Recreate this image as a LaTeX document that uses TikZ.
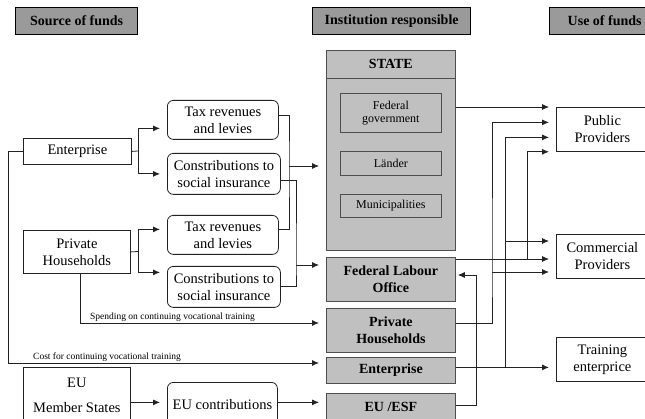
\documentclass[tikz,border=0pt]{standalone}
\usepackage{fontspec}
\setmainfont{Liberation Serif}
\usetikzlibrary{calc, arrows.meta}

\definecolor{headgray}{HTML}{9A9A9A}
\definecolor{boxgray}{HTML}{C0C0C0}
\definecolor{linegray}{HTML}{222222}

\tikzset{
	header/.style={draw=black, line width=1.3pt, fill=headgray, anchor=north west, inner sep=0pt, font=\bfseries\fontsize{14}{16}\selectfont},
	plainbox/.style={draw=linegray, line width=0.8pt, fill=white, anchor=north west, inner sep=0pt, align=center, font=\fontsize{14.5}{17}\selectfont},
	roundbox/.style={plainbox, rounded corners=6pt},
	instbox/.style={draw=linegray!80, line width=0.8pt, fill=boxgray, anchor=north west, inner sep=0pt, align=center, font=\bfseries\fontsize{14}{17}\selectfont},
	subbox/.style={draw=linegray!80, line width=0.8pt, fill=boxgray, anchor=north west, inner sep=0pt, align=center, font=\fontsize{12}{13}\selectfont},
	flow/.style={draw=linegray, line width=0.8pt},
	arr/.style={flow, -{Latex[length=7pt,width=6pt]}, shorten >=7pt},
	smalllbl/.style={anchor=south west, inner sep=1pt, font=\fontsize{9.5}{11}\selectfont}
}

\begin{document}
\begin{tikzpicture}[x=1pt, y=-1pt]
	\useasboundingbox (0,0) rectangle (645,419);
	\clip (0,0) rectangle (645,419);

	% headers
	\node[header, minimum width=122, minimum height=27] (hsrc) at (15,7) {Source of funds};
	\node[header, minimum width=158, minimum height=27] (hinst) at (312,7) {Institution responsible};
	\node[header, minimum width=110, minimum height=27] (huse) at (549,7) {Use of funds};

	% source of funds
	\node[plainbox, minimum width=108, minimum height=26] (ent) at (23,138) {Enterprise};
	\node[plainbox, minimum width=107, minimum height=43] (ph) at (23,230) {Private\\Households};
	\node[plainbox, minimum width=107, minimum height=55] (eu) at (23,367) {EU\\[8pt]Member States};

	\node[roundbox, minimum width=111, minimum height=39] (tax1) at (167,100) {Tax revenues\\and levies};
	\node[roundbox, minimum width=113, minimum height=41] (con1) at (167,153) {Constributions to\\social insurance};
	\node[roundbox, minimum width=111, minimum height=39] (tax2) at (167,215) {Tax revenues\\and levies};
	\node[roundbox, minimum width=113, minimum height=41] (con2) at (167,266) {Constributions to\\social insurance};
	\node[roundbox, minimum width=110, minimum height=45] (euc) at (167,382) {EU contributions};

	% institutions
	\node[instbox, minimum width=129, minimum height=28] (statehead) at (326,50) {STATE};
	\node[instbox, minimum width=129, minimum height=172] (statebody) at (326,78) {};
	\node[subbox, minimum width=101, minimum height=39] (fedgov) at (340,93) {Federal\\government};
	\node[subbox, minimum width=101, minimum height=24] (laender) at (340,151) {Länder};
	\node[subbox, minimum width=101, minimum height=23] (munic) at (340,194) {Municipalities};
	\node[instbox, minimum width=129, minimum height=44] (flo) at (326,257) {Federal Labour\\Office};
	\node[instbox, minimum width=129, minimum height=44] (phr) at (326,308) {Private\\Households};
	\node[instbox, minimum width=129, minimum height=26] (entr) at (326,357) {Enterprise};
	\node[instbox, minimum width=129, minimum height=28] (esf) at (326,393) {EU /ESF};

	% use of funds
	\node[plainbox, minimum width=92, minimum height=44] (pub) at (556,107) {Public\\Providers};
	\node[plainbox, minimum width=92, minimum height=44] (com) at (556,234) {Commercial\\Providers};
	\node[plainbox, minimum width=92, minimum height=44] (trn) at (556,337) {Training\\enterprice};

	% source -> intermediate
	\coordinate (j1) at (138,151);
	\coordinate (j2) at (138,251.5);
	\draw[flow] (ent.east) -- (j1);
	\draw[arr] (j1) |- ([yshift=-8.5pt]tax1.west);
	\draw[arr] (j1) |- (con1.west);
	\draw[flow] (ph.east) -- (j2);
	\draw[arr] (j2) |- ([yshift=5.5pt]tax2.west);
	\draw[arr] (j2) |- ([yshift=14.5pt]con2.west);

	% intermediate -> institutions
	\coordinate (v1) at (289,166);
	\coordinate (v2) at (296,265);
	\draw[flow] ([yshift=4.5pt]tax1.east) -| (v1) |- ([yshift=5.5pt]tax2.east);
	\draw[arr] (v1) -- (v1 -| statebody.west);
	\draw[flow] ([yshift=-6.5pt]con1.east) -| (v2) |- (con2.east);
	\draw[arr] (v2) -- (v2 -| flo.west);

	% direct spending
	\coordinate (c1) at (8,363);
	\coordinate (c2) at (80,323);
	\draw[arr] (ent.west) -| (c1) -- (c1 -| entr.west);
	\node[smalllbl] (costlbl) at ([xshift=24pt]c1) {Cost for continuing vocational training};
	\draw[arr] (ph.south -| c2) |- (c2 -| phr.west);
	\node[smalllbl] (spendlbl) at ([xshift=9pt]c2) {Spending on continuing vocational training};

	% EU
	\draw[arr] ([yshift=-7.5pt]eu.east) -- ([yshift=-7.5pt]eu.east -| euc.west);
	\draw[arr] ([yshift=-7.5pt]eu.east -| euc.east) -- ([yshift=-7.5pt]eu.east -| esf.west);

	% institutions -> use of funds
	\coordinate (r1) at (492,272);
	\coordinate (r2) at (505,241);
	\coordinate (r3) at (527,259);
	\coordinate (r4) at (476,275);
	\draw[arr] (statebody.east |- pub.north) -- (pub.north west);
	\draw[arr] ([yshift=7pt]phr.east) -| (r1) |- ([yshift=7pt]pub.west);
	\draw[arr] (r1) -- (r1 -| com.west);
	\draw[arr] ([yshift=3pt]entr.east) -- ([yshift=3pt]entr.east -| trn.west);
	\draw[arr] ([yshift=3pt]entr.east -| r2) |- ([yshift=-8pt]pub.west);
	\draw[arr] (r2) -- (r2 -| com.west);
	\draw[arr] (r3 -| flo.east) -- (r3 -| com.west);
	\draw[arr] (r3) |- (pub.south west);
	\draw[arr, shorten >=2pt] ([yshift=2pt]esf.east) -| (r4) -- (r4 -| flo.east);
\end{tikzpicture}
\end{document}
